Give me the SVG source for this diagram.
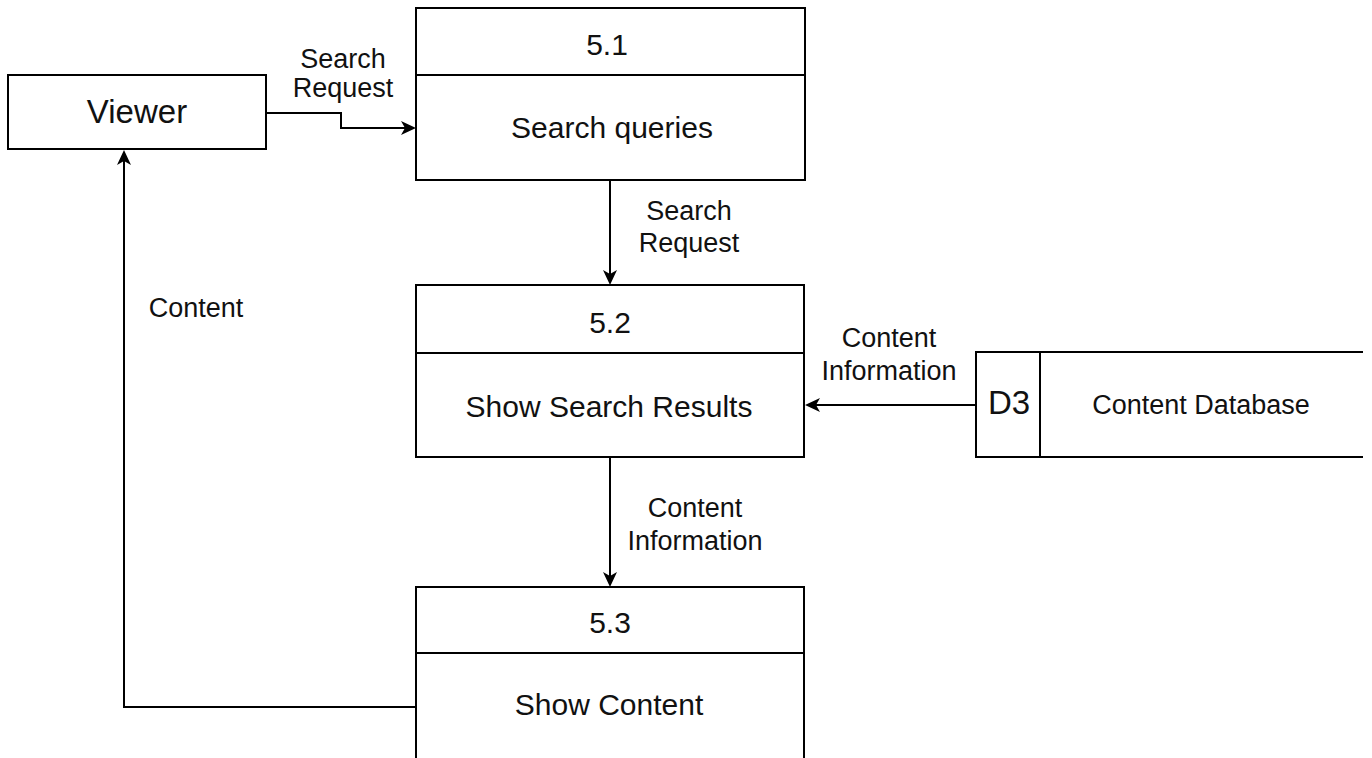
<svg xmlns="http://www.w3.org/2000/svg" width="1372" height="758" viewBox="0 0 1372 758">
  <style>
    .box { fill: #ffffff; stroke: #000000; stroke-width: 2; }
    .div { stroke: #000000; stroke-width: 2; fill: none; }
    .flow { stroke: #000000; stroke-width: 2; fill: none; marker-end: url(#arrow); }
    text { font-family: "Liberation Sans", Arial, Helvetica, sans-serif; fill: #111111; text-anchor: middle; }
    .t { font-size: 30px; }
    .ent { font-size: 33px; }
    .lbl { font-size: 27px; }
  </style>
  <defs>
    <marker id="arrow" viewBox="0 0 15 14" refX="11" refY="7" markerWidth="15" markerHeight="14" markerUnits="userSpaceOnUse" orient="auto">
      <path d="M15,7 L0,0 L4,7 L0,14 Z" fill="#000000"/>
    </marker>
  </defs>
  <rect width="1372" height="758" fill="#ffffff"/>

  <!-- data flows -->
  <g id="connectors">
    <path class="flow" d="M266,113 H341 V128 H412"/>
    <path class="flow" d="M610,180 V281"/>
    <path class="flow" d="M976,405 H809"/>
    <path class="flow" d="M610,457 V583"/>
    <path class="flow" d="M416,707 H124 V154"/>
  </g>

  <!-- flow labels -->
  <g id="labels">
    <text class="lbl" x="343" y="68">Search</text>
    <text class="lbl" x="343" y="97">Request</text>
    <text class="lbl" x="689" y="220">Search</text>
    <text class="lbl" x="689" y="252">Request</text>
    <text class="lbl" x="196" y="317">Content</text>
    <text class="lbl" x="889" y="347">Content</text>
    <text class="lbl" x="889" y="380">Information</text>
    <text class="lbl" x="695" y="517">Content</text>
    <text class="lbl" x="695" y="550">Information</text>
  </g>

  <!-- external entity -->
  <g id="viewer">
    <rect class="box" x="8" y="75" width="258" height="74"/>
    <text class="ent" x="137" y="123">Viewer</text>
  </g>

  <!-- processes -->
  <g id="process-5-1">
    <rect class="box" x="416" y="8" width="389" height="172"/>
    <line class="div" x1="416" y1="75" x2="805" y2="75"/>
    <text class="t" x="607" y="55">5.1</text>
    <text class="t" x="612" y="138">Search queries</text>
  </g>

  <g id="process-5-2">
    <rect class="box" x="416" y="285" width="388" height="172"/>
    <line class="div" x1="416" y1="353" x2="804" y2="353"/>
    <text class="t" x="610" y="333">5.2</text>
    <text class="t" x="609" y="417">Show Search Results</text>
  </g>

  <g id="process-5-3">
    <rect class="box" x="416" y="587" width="388" height="190"/>
    <line class="div" x1="416" y1="653" x2="804" y2="653"/>
    <text class="t" x="610" y="633">5.3</text>
    <text class="t" x="609" y="715">Show Content</text>
  </g>

  <!-- data store -->
  <g id="store-d3">
    <path class="div" d="M1363,352 H976 V457 H1363"/>
    <line class="div" x1="1040" y1="352" x2="1040" y2="457"/>
    <text class="ent" x="1009" y="414">D3</text>
    <text class="lbl" x="1201" y="414">Content Database</text>
  </g>
</svg>
